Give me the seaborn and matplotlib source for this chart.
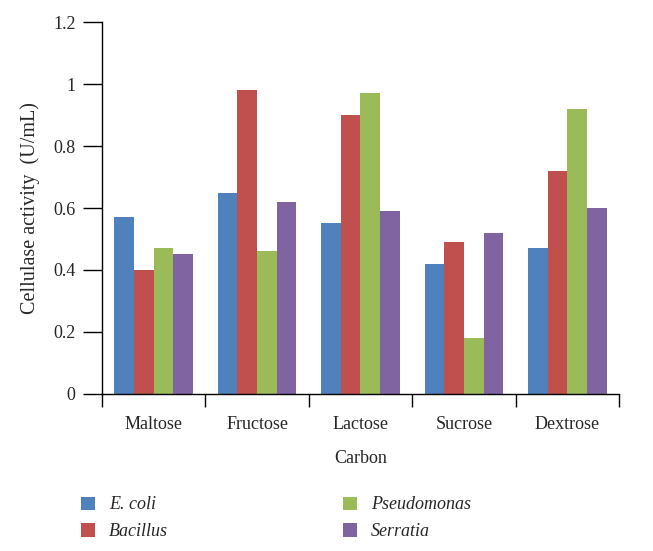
import matplotlib
matplotlib.use("Agg")
import matplotlib.pyplot as plt
import pandas as pd
import seaborn as sns

# Data
carbons = ['Maltose', 'Fructose', 'Lactose', 'Sucrose', 'Dextrose']
species = ['E. coli', 'Bacillus', 'Pseudomonas', 'Serratia']
ecoli = [0.57, 0.65, 0.55, 0.42, 0.47]
bacillus = [0.40, 0.98, 0.90, 0.49, 0.72]
pseudomonas = [0.47, 0.46, 0.97, 0.18, 0.92]
serratia = [0.45, 0.62, 0.59, 0.52, 0.60]
y_ticks = [0, 0.2, 0.4, 0.6, 0.8, 1.0, 1.2]
y_tick_labels = ['0', '0.2', '0.4', '0.6', '0.8', '1', '1.2']

df = pd.DataFrame({'Carbon': carbons * 4,
                   'Species': [s for s in species for _ in carbons],
                   'value': ecoli + bacillus + pseudomonas + serratia})

sns.set_style('white')
plt.rcParams['font.family'] = ['Liberation Serif', 'DejaVu Serif']

palette = ['#4F81BD', '#C0504D', '#9BBB59', '#8064A2']
fs = 13

fig = plt.figure(figsize=(6.53, 5.51), dpi=100)
ax = fig.add_axes([0.156, 0.285, 0.792, 0.675])
sns.barplot(data=df, x='Carbon', y='value', hue='Species', order=carbons,
            hue_order=species, palette=palette, width=0.76, gap=0,
            saturation=1, linewidth=0, ax=ax, legend=True)

ax.set_ylim(0, 1.2)
ax.set_xlim(-0.5, len(carbons) - 0.5)
ax.set_yticks(y_ticks)
ax.set_yticklabels(y_tick_labels, fontsize=fs)
ax.set_xticks([i - 0.5 for i in range(len(carbons) + 1)])
ax.set_xticklabels([])
ax.set_xticks(range(len(carbons)), minor=True)
ax.set_xticklabels(carbons, minor=True, fontsize=fs)
ax.tick_params(axis='x', which='major', direction='out', length=9, width=1, color='black', bottom=True)
ax.tick_params(axis='x', which='minor', length=0, pad=16, bottom=True)
ax.tick_params(axis='y', direction='out', length=14, width=1, color='black', left=True, pad=5)

for side in ['top', 'right']:
    ax.spines[side].set_visible(False)
for side in ['left', 'bottom']:
    ax.spines[side].set_color('black')
    ax.spines[side].set_linewidth(1)

ax.set_xlabel('Carbon', fontsize=fs, labelpad=12)
ax.set_ylabel('Cellulase activity  (U/mL)', fontsize=14.5, labelpad=9)

handles, labels = ax.get_legend_handles_labels()
ax.get_legend().remove()
fig.legend(handles, labels, loc='upper left', bbox_to_anchor=(0.124, 0.099),
           ncol=2, frameon=False, prop={'style': 'italic', 'size': fs},
           handlelength=0.75, handleheight=0.75, handletextpad=0.8,
           columnspacing=9.7, labelspacing=0.55, borderpad=0, borderaxespad=0)

fig.savefig('out.png', dpi=100)
